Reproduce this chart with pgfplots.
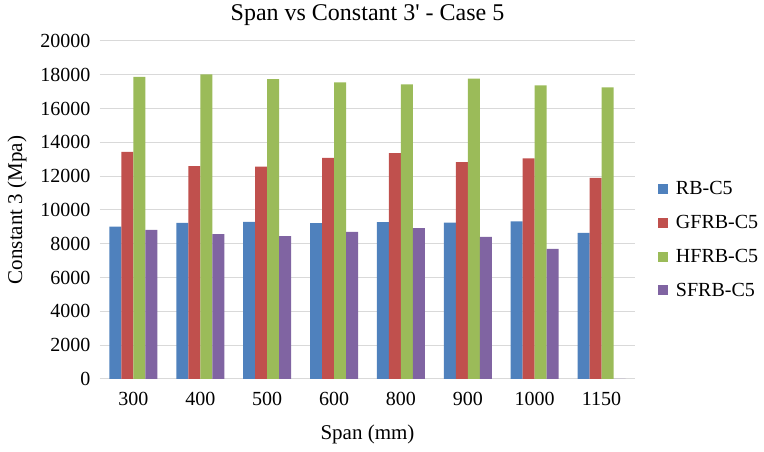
\documentclass[border=0pt]{standalone}
\usepackage{pgfplots}
\pgfplotsset{compat=1.18}
\usepackage{fontspec}
\setmainfont{Liberation Serif}
\definecolor{cb}{HTML}{4F81BD}
\definecolor{cr}{HTML}{C0504D}
\definecolor{cg}{HTML}{9BBB59}
\definecolor{cp}{HTML}{8064A2}
\definecolor{gridc}{HTML}{D9D9D9}
\begin{document}
\begin{tikzpicture}
\begin{axis}[
  scale only axis, width=535pt, height=338pt,
  ybar=0pt, bar width=12pt,
  xmin=-0.5, xmax=7.5, ymin=0, ymax=20000,
  xtick=data, xticklabels={300,400,500,600,800,900,1000,1150},
  ytick={0,2000,...,20000},
  scaled y ticks=false,
  /pgf/number format/assume math mode=true,
  yticklabel style={/pgf/number format/1000 sep={}, xshift=-6pt},
  xticklabel style={yshift=-10pt},
  tick label style={font=\fontsize{20}{22}\selectfont},
  major tick length=0pt,
  ymajorgrids, grid style={gridc, line width=1pt},
  axis x line*=bottom, axis y line*=left,
  x axis line style={gridc, line width=1pt, -},
  y axis line style={draw=none},
  title={Span vs Constant 3\textquotesingle{} - Case 5},
  title style={font=\fontsize{24}{27}\selectfont, yshift=6pt},
  xlabel={Span (mm)}, ylabel={Constant 3 (Mpa)},
  label style={font=\fontsize{21}{24}\selectfont},
  xlabel style={yshift=-12pt},
  ylabel style={yshift=7pt},
  legend style={at={(1.037,0.596)}, anchor=north west, draw=none,
    font=\fontsize{20}{22}\selectfont, row sep=15pt,
    nodes={inner xsep=8pt}},
  legend cell align=left,
  legend image code/.code={\fill[#1] (0pt,-5pt) rectangle (10pt,5pt);},
]
\addplot[fill=cb, draw=none] coordinates {(0,9020) (1,9240) (2,9300) (3,9220) (4,9280) (5,9260) (6,9320) (7,8650)};
\addplot[fill=cr, draw=none] coordinates {(0,13440) (1,12600) (2,12560) (3,13090) (4,13370) (5,12830) (6,13050) (7,11900)};
\addplot[fill=cg, draw=none] coordinates {(0,17870) (1,18030) (2,17750) (3,17550) (4,17430) (5,17770) (6,17370) (7,17260)};
\addplot[fill=cp, draw=none] coordinates {(0,8830) (1,8570) (2,8450) (3,8710) (4,8920) (5,8410) (6,7700) (7,0)};
\legend{RB-C5,GFRB-C5,HFRB-C5,SFRB-C5}
\end{axis}
\pgfresetboundingbox
\path (-100pt,-73pt) rectangle (664pt,379pt);
\end{tikzpicture}
\end{document}
